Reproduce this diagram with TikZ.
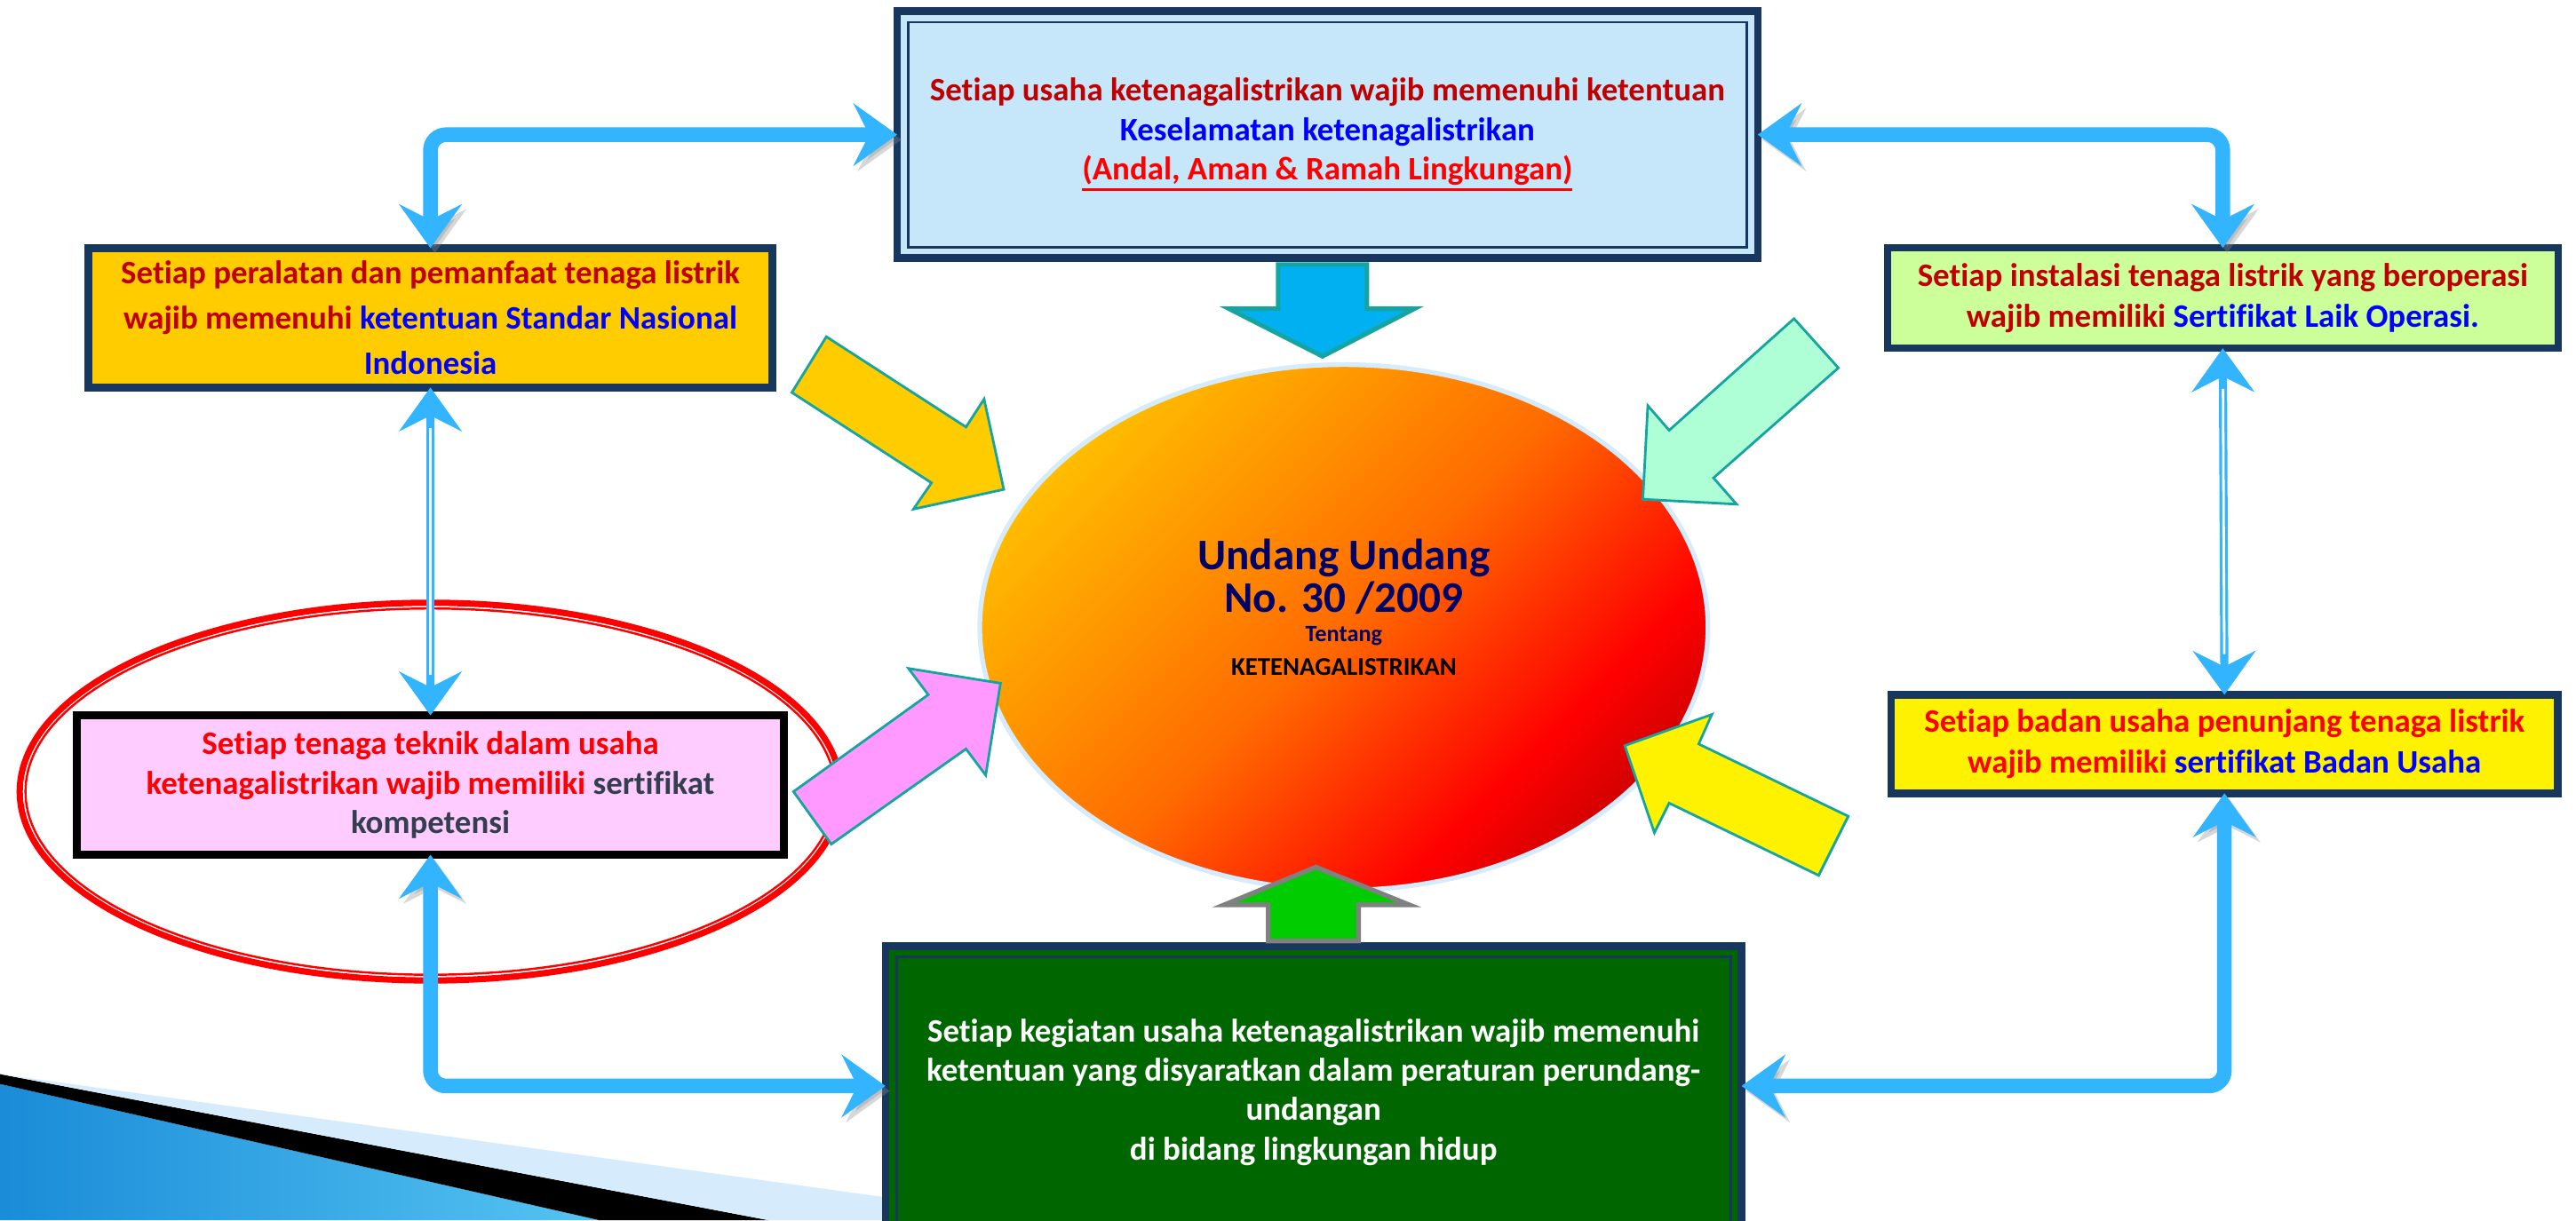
\documentclass[tikz,border=0pt]{standalone}
\usepackage{fontspec}
\setmainfont{Carlito}[Ligatures=NoCommon]
\usepackage{tikz}
\usetikzlibrary{arrows.meta, shapes.geometric}

\newcommand{\thickuline}[1]{\vtop{\hbox{#1}\kern0.9pt\hrule height 1pt}}

\definecolor{boxnavy}{HTML}{17375E}
\definecolor{topfill}{HTML}{C6E7FA}
\definecolor{goldfill}{HTML}{FFCC00}
\definecolor{limefill}{HTML}{CCFF99}
\definecolor{pinkfill}{HTML}{FFCCFF}
\definecolor{envgreen}{HTML}{006600}
\definecolor{dred}{HTML}{C00000}
\definecolor{bred}{HTML}{FF0000}
\definecolor{tblue}{HTML}{0000FF}
\definecolor{slate}{HTML}{333F4F}
\definecolor{uunavy}{HTML}{000066}
\definecolor{linkblue}{HTML}{33B4FF}
\definecolor{arrowteal}{HTML}{16A4A0}
\definecolor{cyanarrow}{HTML}{00B0F0}
\definecolor{mintarrow}{HTML}{AEFFD6}
\definecolor{pinkarrow}{HTML}{FF99FF}
\definecolor{greenarrow}{HTML}{00CC00}
\definecolor{uugold}{HTML}{FFC600}
\definecolor{uuorange}{HTML}{FF6A00}
\definecolor{uudark}{HTML}{A00000}
\definecolor{decodark}{HTML}{1A8CD8}
\definecolor{decolite}{HTML}{55C4F2}
\definecolor{decoband}{HTML}{D6EBFB}

\pgfdeclarehorizontalshading{uushade}{100bp}{color(0bp)=(uugold); color(22bp)=(uugold); color(50bp)=(uuorange); color(68bp)=(red); color(84bp)=(uudark); color(100bp)=(uudark)}

\begin{document}
\begin{tikzpicture}[x=0.185mm, y=-0.185mm, font=\bfseries,
    box/.style={draw=boxnavy, line width=2.4pt, inner sep=0pt, outer sep=0pt, align=center,
        font=\fontsize{10.5}{12.6}\selectfont\bfseries},
    lawtext/.style={text=uunavy, inner sep=0pt},
    link/.style={draw=linkblue, line width=4.7pt, rounded corners=5pt,
        arrows={Stealth[length=14pt,width=20pt,inset=5pt]-Stealth[length=14pt,width=20pt,inset=5pt]},
        preaction={draw=black!45, opacity=0.35, transform canvas={shift={(1.4pt,-1.6pt)}}}},
    thinlink/.style={draw=linkblue, line width=2.6pt,
        arrows={Stealth[length=14pt,width=20pt,inset=5pt]-Stealth[length=14pt,width=20pt,inset=5pt]}},
    thincore/.style={draw=white, line width=0.8pt, shorten <=13pt, shorten >=13pt},
    blockarrow/.style={draw=arrowteal, line width=0.8pt, line join=miter}]
    \useasboundingbox (0,0) rectangle (1568,743);

    % corner decoration
    \shade[left color=decodark, right color=decolite] (0,660) -- (365,743) -- (0,743) -- cycle;
    \fill[black] (0,654) -- (468,743) -- (365,743) -- (0,660) -- cycle;
    \fill[decoband] (0,654) -- (539,729) -- (539,743) -- (468,743) -- cycle;

    % red ring round the competence box
    \draw[bred, line width=2pt] (262,482) ellipse [x radius=250, y radius=115];
    \draw[bred, line width=0.7pt] (262,482) ellipse [x radius=246.5, y radius=111.5];

    % top box
    \node[box, fill=topfill, minimum width=96.9mm, minimum height=27.8mm] (keselamatan) at (808,82)
        {{\color{dred}Setiap usaha ketenagalistrikan wajib memenuhi ketentuan}\\
         {\color{tblue}Keselamatan ketenagalistrikan}\\
         {\color{bred}\thickuline{(Andal, Aman \& Ramah Lingkungan)}}};
    \draw[boxnavy, line width=0.8pt] ([shift={(3.5pt,-3.5pt)}]keselamatan.north west) rectangle ([shift={(-3.5pt,3.5pt)}]keselamatan.south east);

    % left boxes
    \node[box, fill=goldfill, minimum width=77mm, minimum height=15.7mm,
        font=\fontsize{10.5}{14.5}\selectfont\bfseries] (sni) at (262,193.5)
        {{\color{dred}Setiap peralatan dan pemanfaat tenaga listrik}\\
         {\color{dred}wajib memenuhi} {\color{tblue}ketentuan Standar Nasional}\\
         {\color{tblue}Indonesia}};
    \node[box, draw=black, fill=pinkfill, minimum width=79.6mm, minimum height=15.7mm] (kompetensi) at (262,478)
        {{\color{bred}Setiap tenaga teknik dalam usaha}\\
         {\color{bred}ketenagalistrikan wajib memiliki} {\color{slate}sertifikat}\\
         {\color{slate}kompetensi}};

    % right boxes
    \node[box, fill=limefill, minimum width=75.5mm, minimum height=11.3mm,
        font=\fontsize{10.5}{13.2}\selectfont\bfseries] (slo) at (1353,181.5)
        {{\color{dred}Setiap instalasi tenaga listrik yang beroperasi}\\
         {\color{dred}wajib memiliki} {\color{tblue}Sertifikat Laik Operasi.}};
    \node[box, fill=yellow, minimum width=75.1mm, minimum height=11.1mm,
        font=\fontsize{10.5}{13.2}\selectfont\bfseries] (sbu) at (1354,453)
        {{\color{bred}Setiap badan usaha penunjang tenaga listrik}\\
         {\color{bred}wajib memiliki} {\color{tblue}sertifikat Badan Usaha}};

    % bottom box
    \node[box, fill=envgreen, text=white, minimum width=96.4mm, minimum height=32.9mm] (lingkungan) at (799.5,665)
        {Setiap kegiatan usaha ketenagalistrikan wajib memenuhi\\
         ketentuan yang disyaratkan dalam peraturan perundang-\\
         undangan\\
         di bidang lingkungan hidup};
    \draw[boxnavy, line width=0.8pt] ([shift={(3.5pt,-3.5pt)}]lingkungan.north west) rectangle ([shift={(-3.5pt,3.5pt)}]lingkungan.south east);

    % law in the centre
    \node[ellipse, draw=decoband, line width=1.5pt, shading=uushade, shading angle=-45,
        minimum width=82mm, minimum height=59.2mm] (uu) at (818,382) {};
    \node[lawtext, font=\fontsize{14}{16}\selectfont\bfseries] (uutitle) at (818,340) {Undang Undang};
    \node[lawtext, font=\fontsize{14}{16}\selectfont\bfseries] (uuno) at (818,364) {No. 30 /2009};
    \node[lawtext, font=\fontsize{7.5}{9}\selectfont\bfseries] (uutentang) at (818,387) {Tentang};
    \node[lawtext, text=black, font=\fontsize{8.2}{10}\selectfont\bfseries] (uuname) at (818,406) {KETENAGALISTRIKAN};

    % block arrows towards the law
    \draw[blockarrow, fill=cyanarrow, line width=1.4pt] (778,161) -- (832,161) -- (832,188) -- (861,188) -- (805,217) -- (748,188) -- (778,188) -- cycle;
    \draw[blockarrow, draw=gray, fill=greenarrow, line width=1.5pt] (772,573) -- (827,573) -- (827,551) -- (858,551) -- (801,528) -- (745,551) -- (772,551) -- cycle;
    \draw[blockarrow, fill=goldfill] (503,205) -- (588,260) -- (599,243) -- (611,298) -- (556,310) -- (567,294) -- (482,239) -- cycle;
    \draw[blockarrow, fill=mintarrow] (1092,194) -- (1119,224) -- (1043,291) -- (1057,307) -- (1000,304) -- (1003,247) -- (1016,262) -- cycle;
    \draw[blockarrow, fill=pinkarrow] (483,482) -- (565,423) -- (553,407) -- (609,416) -- (600,472) -- (588,456) -- (506,514) -- cycle;
    \draw[blockarrow, fill=yellow] (1125,497) -- (1034,453) -- (1042,435) -- (989,454) -- (1007,507) -- (1016,489) -- (1107,533) -- cycle;

    % connectors between the boxes
    \draw[link] (keselamatan.west) -| (sni.north);
    \draw[link] (keselamatan.east) -| (slo.north);
    \draw[link] (kompetensi.south) |- ([yshift=0.7mm]lingkungan.west);
    \draw[link] ([yshift=0.7mm]lingkungan.east) -| (sbu.south);
    \draw[thinlink] (sni.south) -- (kompetensi.north);
    \draw[thincore] (sni.south) -- (kompetensi.north);
    \draw[thinlink] (slo.south) -- (sbu.north);
    \draw[thincore] (slo.south) -- (sbu.north);
\end{tikzpicture}
\end{document}
